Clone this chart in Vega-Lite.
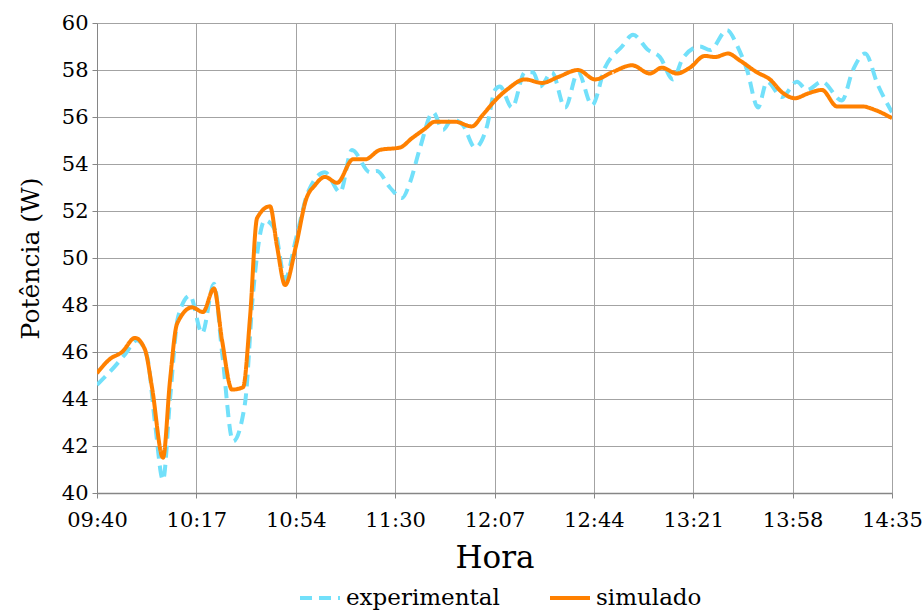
{
  "$schema": "https://vega.github.io/schema/vega-lite/v6.json",
  "width": 795,
  "height": 470,
  "autosize": {"type": "none"},
  "padding": {"left": 97, "top": 23, "right": 31, "bottom": 117},
  "background": "white",
  "config": {
    "font": "DejaVu Serif",
    "view": {"stroke": null},
    "axis": {
      "labelFont": "DejaVu Serif",
      "titleFont": "DejaVu Serif",
      "labelColor": "black",
      "titleColor": "black",
      "labelFontSize": 21,
      "titleFontWeight": "normal",
      "gridColor": "#a3a3a3",
      "gridWidth": 1,
      "domainColor": "#868686",
      "tickColor": "#868686",
      "tickSize": 5
    },
    "legend": {
      "labelFont": "DejaVu Serif",
      "labelFontSize": 23,
      "labelColor": "black"
    }
  },
  "datasets": {
    "series": [
      {"t": 0, "v": 44.6, "s": "experimental"},
      {"t": 6.7, "v": 45.4, "s": "experimental"},
      {"t": 10.4, "v": 45.9, "s": "experimental"},
      {"t": 14.8, "v": 46.5, "s": "experimental"},
      {"t": 18.6, "v": 45.8, "s": "experimental"},
      {"t": 21.5, "v": 43.0, "s": "experimental"},
      {"t": 24.5, "v": 40.55, "s": "experimental"},
      {"t": 27.1, "v": 44.0, "s": "experimental"},
      {"t": 30.1, "v": 47.5, "s": "experimental"},
      {"t": 34.5, "v": 48.4, "s": "experimental"},
      {"t": 39.0, "v": 46.8, "s": "experimental"},
      {"t": 43.4, "v": 48.9, "s": "experimental"},
      {"t": 46.4, "v": 46.0, "s": "experimental"},
      {"t": 50.5, "v": 42.2, "s": "experimental"},
      {"t": 54.9, "v": 43.8, "s": "experimental"},
      {"t": 57.9, "v": 48.5, "s": "experimental"},
      {"t": 62.3, "v": 51.6, "s": "experimental"},
      {"t": 66.0, "v": 51.2, "s": "experimental"},
      {"t": 69.8, "v": 49.1, "s": "experimental"},
      {"t": 73.8, "v": 50.8, "s": "experimental"},
      {"t": 78.3, "v": 52.8, "s": "experimental"},
      {"t": 84.6, "v": 53.65, "s": "experimental"},
      {"t": 90.2, "v": 52.8, "s": "experimental"},
      {"t": 94.6, "v": 54.6, "s": "experimental"},
      {"t": 101.3, "v": 53.65, "s": "experimental"},
      {"t": 103.9, "v": 53.7, "s": "experimental"},
      {"t": 108.7, "v": 53.0, "s": "experimental"},
      {"t": 113.2, "v": 52.55, "s": "experimental"},
      {"t": 116.1, "v": 53.2, "s": "experimental"},
      {"t": 119.9, "v": 54.7, "s": "experimental"},
      {"t": 124.7, "v": 56.2, "s": "experimental"},
      {"t": 128.4, "v": 55.45, "s": "experimental"},
      {"t": 131.7, "v": 55.9, "s": "experimental"},
      {"t": 135.8, "v": 55.65, "s": "experimental"},
      {"t": 140.3, "v": 54.7, "s": "experimental"},
      {"t": 144.7, "v": 55.6, "s": "experimental"},
      {"t": 147.7, "v": 57.15, "s": "experimental"},
      {"t": 149.5, "v": 57.3, "s": "experimental"},
      {"t": 154.0, "v": 56.4, "s": "experimental"},
      {"t": 158.8, "v": 57.9, "s": "experimental"},
      {"t": 161.8, "v": 57.9, "s": "experimental"},
      {"t": 164.4, "v": 57.3, "s": "experimental"},
      {"t": 168.8, "v": 57.9, "s": "experimental"},
      {"t": 173.7, "v": 56.4, "s": "experimental"},
      {"t": 178.5, "v": 57.9, "s": "experimental"},
      {"t": 183.7, "v": 56.5, "s": "experimental"},
      {"t": 188.5, "v": 58.1, "s": "experimental"},
      {"t": 194.8, "v": 59.0, "s": "experimental"},
      {"t": 198.9, "v": 59.5, "s": "experimental"},
      {"t": 204.5, "v": 58.85, "s": "experimental"},
      {"t": 208.9, "v": 58.55, "s": "experimental"},
      {"t": 213.7, "v": 57.6, "s": "experimental"},
      {"t": 217.4, "v": 58.5, "s": "experimental"},
      {"t": 223.7, "v": 59.0, "s": "experimental"},
      {"t": 227.5, "v": 58.85, "s": "experimental"},
      {"t": 233.8, "v": 59.7, "s": "experimental"},
      {"t": 237.5, "v": 59.05, "s": "experimental"},
      {"t": 241.2, "v": 58.0, "s": "experimental"},
      {"t": 245.3, "v": 56.4, "s": "experimental"},
      {"t": 248.6, "v": 57.5, "s": "experimental"},
      {"t": 254.2, "v": 56.85, "s": "experimental"},
      {"t": 259.7, "v": 57.5, "s": "experimental"},
      {"t": 263.5, "v": 57.15, "s": "experimental"},
      {"t": 269.0, "v": 57.5, "s": "experimental"},
      {"t": 276.4, "v": 56.7, "s": "experimental"},
      {"t": 280.5, "v": 58.0, "s": "experimental"},
      {"t": 285.0, "v": 58.7, "s": "experimental"},
      {"t": 289.8, "v": 57.35, "s": "experimental"},
      {"t": 295.0, "v": 56.2, "s": "experimental"},

      {"t": 0, "v": 45.1, "s": "simulado"},
      {"t": 4.8, "v": 45.7, "s": "simulado"},
      {"t": 9.3, "v": 46.0, "s": "simulado"},
      {"t": 14.1, "v": 46.6, "s": "simulado"},
      {"t": 17.8, "v": 46.1, "s": "simulado"},
      {"t": 20.4, "v": 44.5, "s": "simulado"},
      {"t": 24.5, "v": 41.5, "s": "simulado"},
      {"t": 27.1, "v": 44.8, "s": "simulado"},
      {"t": 29.7, "v": 47.2, "s": "simulado"},
      {"t": 35.3, "v": 47.9, "s": "simulado"},
      {"t": 39.3, "v": 47.7, "s": "simulado"},
      {"t": 43.4, "v": 48.7, "s": "simulado"},
      {"t": 46.4, "v": 46.5, "s": "simulado"},
      {"t": 50.1, "v": 44.4, "s": "simulado"},
      {"t": 54.2, "v": 44.5, "s": "simulado"},
      {"t": 56.8, "v": 47.5, "s": "simulado"},
      {"t": 59.4, "v": 51.7, "s": "simulado"},
      {"t": 64.2, "v": 52.2, "s": "simulado"},
      {"t": 66.8, "v": 50.5, "s": "simulado"},
      {"t": 69.8, "v": 48.85, "s": "simulado"},
      {"t": 73.8, "v": 50.5, "s": "simulado"},
      {"t": 77.6, "v": 52.5, "s": "simulado"},
      {"t": 80.9, "v": 53.1, "s": "simulado"},
      {"t": 84.6, "v": 53.45, "s": "simulado"},
      {"t": 89.1, "v": 53.2, "s": "simulado"},
      {"t": 95.0, "v": 54.2, "s": "simulado"},
      {"t": 99.5, "v": 54.2, "s": "simulado"},
      {"t": 105.0, "v": 54.6, "s": "simulado"},
      {"t": 112.4, "v": 54.7, "s": "simulado"},
      {"t": 116.9, "v": 55.1, "s": "simulado"},
      {"t": 121.7, "v": 55.5, "s": "simulado"},
      {"t": 125.4, "v": 55.8, "s": "simulado"},
      {"t": 132.8, "v": 55.8, "s": "simulado"},
      {"t": 139.1, "v": 55.6, "s": "simulado"},
      {"t": 143.2, "v": 56.1, "s": "simulado"},
      {"t": 147.7, "v": 56.7, "s": "simulado"},
      {"t": 152.5, "v": 57.2, "s": "simulado"},
      {"t": 158.8, "v": 57.6, "s": "simulado"},
      {"t": 165.1, "v": 57.45, "s": "simulado"},
      {"t": 171.1, "v": 57.7, "s": "simulado"},
      {"t": 178.5, "v": 58.0, "s": "simulado"},
      {"t": 184.8, "v": 57.6, "s": "simulado"},
      {"t": 191.1, "v": 57.9, "s": "simulado"},
      {"t": 198.5, "v": 58.2, "s": "simulado"},
      {"t": 205.2, "v": 57.85, "s": "simulado"},
      {"t": 209.6, "v": 58.1, "s": "simulado"},
      {"t": 215.2, "v": 57.85, "s": "simulado"},
      {"t": 220.0, "v": 58.1, "s": "simulado"},
      {"t": 225.6, "v": 58.6, "s": "simulado"},
      {"t": 229.3, "v": 58.55, "s": "simulado"},
      {"t": 234.1, "v": 58.7, "s": "simulado"},
      {"t": 238.6, "v": 58.4, "s": "simulado"},
      {"t": 244.9, "v": 57.9, "s": "simulado"},
      {"t": 249.7, "v": 57.6, "s": "simulado"},
      {"t": 254.2, "v": 57.05, "s": "simulado"},
      {"t": 259.0, "v": 56.8, "s": "simulado"},
      {"t": 263.8, "v": 57.0, "s": "simulado"},
      {"t": 269.0, "v": 57.15, "s": "simulado"},
      {"t": 274.6, "v": 56.45, "s": "simulado"},
      {"t": 283.9, "v": 56.45, "s": "simulado"},
      {"t": 288.7, "v": 56.3, "s": "simulado"},
      {"t": 295.0, "v": 55.95, "s": "simulado"}
    ]
  },
  "data": {"name": "series"},
  "layer": [
    {
      "transform": [{"filter": "datum.s === 'experimental'"}],
      "mark": {"type": "line", "interpolate": "monotone", "strokeWidth": 4, "clip": true}
    },
    {
      "transform": [{"filter": "datum.s === 'simulado'"}],
      "mark": {"type": "line", "interpolate": "monotone", "strokeWidth": 4, "clip": true}
    }
  ],
  "encoding": {
    "x": {
      "field": "t",
      "type": "quantitative",
      "scale": {"domain": [0, 295], "nice": false, "zero": false},
      "axis": {
        "title": "Hora",
        "titleFontSize": 31,
        "values": [0, 36.875, 73.75, 110.625, 147.5, 184.375, 221.25, 258.125, 295],
        "labelExpr": "['09:40','10:17','10:54','11:30','12:07','12:44','13:21','13:58','14:35'][round(datum.value / 36.875)]",
        "labelPadding": 11,
        "titlePadding": 13,
        "labelFlush": false,
        "labelOverlap": false,
        "domainWidth": 1.5
      }
    },
    "y": {
      "field": "v",
      "type": "quantitative",
      "scale": {"domain": [40, 60], "nice": false, "zero": false},
      "axis": {
        "title": "Potência (W)",
        "titleFontSize": 25,
        "values": [40, 42, 44, 46, 48, 50, 52, 54, 56, 58, 60],
        "labelPadding": 4,
        "titlePadding": 18,
        "labelFlush": false,
        "labelOverlap": false
      }
    },
    "color": {
      "field": "s",
      "type": "nominal",
      "scale": {"domain": ["experimental", "simulado"], "range": ["#72e0fa", "#ff8000"]},
      "legend": {
        "title": null,
        "orient": "none",
        "direction": "horizontal",
        "legendX": 201,
        "legendY": 553,
        "symbolType": "stroke",
        "symbolSize": 1600,
        "symbolStrokeWidth": 4,
        "columnPadding": 42,
        "labelOffset": 4
      }
    },
    "strokeDash": {
      "field": "s",
      "type": "nominal",
      "scale": {"domain": ["experimental", "simulado"], "range": [[12, 7], [1, 0]]},
      "legend": null
    }
  }
}
